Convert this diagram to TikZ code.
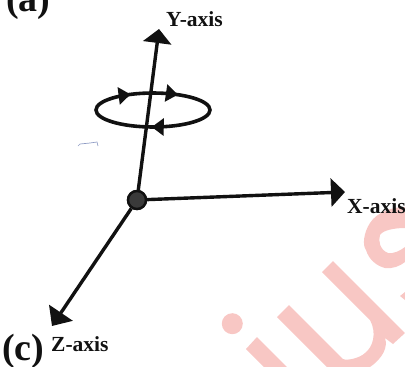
\documentclass[tikz,border=0pt]{standalone}
\usepackage{fontspec}
\setmainfont{Liberation Serif}
\usetikzlibrary{arrows.meta,decorations.markings}
\definecolor{wm}{HTML}{F8C7C4}
\definecolor{ink}{HTML}{111111}
\definecolor{hub}{HTML}{3A3A3A}
\definecolor{scrib}{HTML}{8F9CC4}
\tikzset{
  x=1pt,y=-1pt,
  axislabel/.style={anchor=base west,inner sep=0pt,font=\fontsize{21.5}{21.5}\selectfont\bfseries,text=ink},
  partlabel/.style={anchor=base west,inner sep=0pt,font=\fontsize{38}{38}\selectfont\bfseries,text=ink},
  axisline/.style={draw=ink,line width=3.4pt},
  bigtip/.style={-{Triangle[length=#1,width=28pt,color=ink]}},
  hubdot/.style={circle,fill=hub,draw=ink,line width=2.4pt,minimum size=18pt,inner sep=0pt},
  ringline/.style={draw=ink,line width=3.6pt,
    postaction={decorate,decoration={markings,
      mark=at position 0.15 with {\arrowreversed[ink]{Triangle[length=12pt,width=17pt]}},
      mark=at position 0.34 with {\arrowreversed[ink]{Triangle[length=12pt,width=17pt]}},
      mark=at position 0.745 with {\arrowreversed[ink]{Triangle[length=12pt,width=17pt]}}}}},
}
\begin{document}
\begin{tikzpicture}
\useasboundingbox (0,0) rectangle (405,367);
\clip (0,0) rectangle (405,367);
% watermark
\fill[wm] (232.3,323.7) circle [radius=10.5pt];
\fill[wm] (257,337) -- (287,367) -- (264,367) -- (246,349) -- cycle;
\fill[wm] (289,305) -- (343,359) .. controls (347,361) and (360,358) .. (365,353)
  .. controls (373,347) and (377,333) .. (370,320) -- (322,272) -- (333,261) -- (405,333)
  -- (393,344) -- (385,338) .. controls (388,347) and (383,358) .. (370,367)
  -- (327,367) -- (277,317) -- cycle;
\fill[wm] (405,207) .. controls (392,207) and (377,212) .. (370,223)
  .. controls (364,232) and (362,245) .. (366,250)
  .. controls (369,260) and (377,266) .. (385,268)
  .. controls (393,269) and (400,266) .. (405,262) -- (405,247)
  .. controls (400,251) and (393,254) .. (388,253)
  .. controls (380,250) and (378,241) .. (380,235)
  .. controls (383,230) and (395,228) .. (405,228) -- cycle;
\fill[wm] (405,292) -- (400,296) -- (405,300) -- cycle;
% pencil mark
\draw[scrib,line width=0.7pt] (78,146) -- (80,144) -- (90,143) -- (97,142) -- (98,146);
% axes
\node[hubdot] (origin) at (137,200) {};
\coordinate (ytip) at (159,29);
\coordinate (xtip) at (345,192);
\coordinate (ztip) at (52,326);
\draw[ringline] (153,110) ellipse [x radius=57pt,y radius=17pt];
\draw[axisline,bigtip=14pt] (origin) -- (ytip);
\draw[axisline,bigtip=14pt] (origin) -- (xtip);
\draw[axisline,bigtip=16pt] (origin) -- (ztip);
\node[hubdot] at (origin) {};
% labels
\node[axislabel] (ylabel) at (166,26) {Y-axis};
\node[axislabel] (xlabel) at (347,213) {X-axis};
\node[axislabel] (zlabel) at (51,351) {Z-axis};
\node[partlabel] (parta) at (6,11) {(a)};
\node[partlabel] (partc) at (2,360) {(c)};
\end{tikzpicture}
\end{document}
